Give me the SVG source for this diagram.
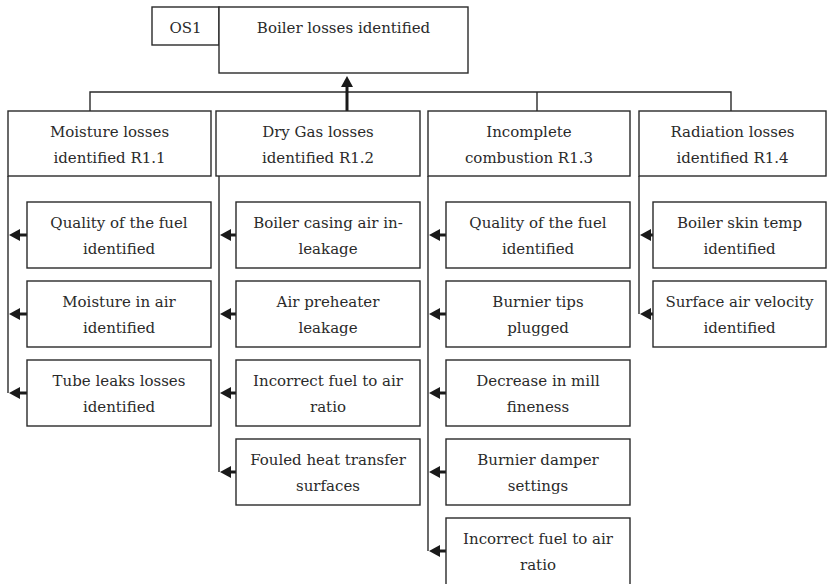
<svg xmlns="http://www.w3.org/2000/svg" width="827" height="584" viewBox="0 0 827 584">
  <style>
    .box { fill: #ffffff; stroke: #2a2a2a; stroke-width: 1.4; }
    .ln { fill: none; stroke: #2a2a2a; stroke-width: 1.4; }
    .arr { fill: none; stroke: #1a1a1a; stroke-width: 3; }
    .lbl { font-family: "DejaVu Serif", "Liberation Serif", serif; font-size: 15px; fill: #2a2a2a; text-anchor: middle; }
  </style>
  <defs>
    <marker id="ah" markerUnits="userSpaceOnUse" markerWidth="12" markerHeight="12" refX="1" refY="6" orient="auto" overflow="visible">
      <path d="M0,0 L11,6 L0,12 z" fill="#1a1a1a"/>
    </marker>
  </defs>
  <rect width="827" height="584" fill="#ffffff"/>

  <!-- connectors -->
  <g id="connectors">
    <path class="ln" d="M90,111 V92 H731 V111 M537,92 V111"/>
    <line class="arr" x1="347" y1="111" x2="347" y2="86" marker-end="url(#ah)"/>
    <!-- spines -->
    <line class="ln" x1="8" y1="176" x2="8" y2="393"/>
    <line class="ln" x1="219" y1="176" x2="219" y2="472"/>
    <line class="ln" x1="428" y1="176" x2="428" y2="551"/>
    <line class="ln" x1="639" y1="176" x2="639" y2="314"/>
    <!-- column 1 -->
    <line class="arr" x1="28" y1="235" x2="19" y2="235" marker-end="url(#ah)"/>
    <line class="arr" x1="28" y1="314" x2="19" y2="314" marker-end="url(#ah)"/>
    <line class="arr" x1="28" y1="393" x2="19" y2="393" marker-end="url(#ah)"/>
    <!-- column 2 -->
    <line class="arr" x1="237" y1="235" x2="230" y2="235" marker-end="url(#ah)"/>
    <line class="arr" x1="237" y1="314" x2="230" y2="314" marker-end="url(#ah)"/>
    <line class="arr" x1="237" y1="393" x2="230" y2="393" marker-end="url(#ah)"/>
    <line class="arr" x1="237" y1="472" x2="230" y2="472" marker-end="url(#ah)"/>
    <!-- column 3 -->
    <line class="arr" x1="447" y1="235" x2="439" y2="235" marker-end="url(#ah)"/>
    <line class="arr" x1="447" y1="314" x2="439" y2="314" marker-end="url(#ah)"/>
    <line class="arr" x1="447" y1="393" x2="439" y2="393" marker-end="url(#ah)"/>
    <line class="arr" x1="447" y1="472" x2="439" y2="472" marker-end="url(#ah)"/>
    <line class="arr" x1="447" y1="551" x2="439" y2="551" marker-end="url(#ah)"/>
    <!-- column 4 -->
    <line class="arr" x1="654" y1="235" x2="650" y2="235" marker-end="url(#ah)"/>
    <line class="arr" x1="654" y1="314" x2="650" y2="314" marker-end="url(#ah)"/>
  </g>

  <!-- top -->
  <g id="os1">
    <rect class="box" x="152" y="7" width="67" height="38"/>
    <text class="lbl" x="185.5" y="33">OS1</text>
  </g>
  <g id="boiler-losses">
    <rect class="box" x="219" y="7" width="249" height="66"/>
    <text class="lbl" x="343.5" y="33">Boiler losses identified</text>
  </g>

  <!-- level 2 -->
  <g id="r1-1">
    <rect class="box" x="8" y="111" width="203" height="65"/>
    <text class="lbl" x="109.5" y="137">Moisture losses</text>
    <text class="lbl" x="109.5" y="163">identified R1.1</text>
  </g>
  <g id="r1-2">
    <rect class="box" x="216" y="111" width="204" height="65"/>
    <text class="lbl" x="318" y="137">Dry Gas losses</text>
    <text class="lbl" x="318" y="163">identified R1.2</text>
  </g>
  <g id="r1-3">
    <rect class="box" x="428" y="111" width="202" height="65"/>
    <text class="lbl" x="529" y="137">Incomplete</text>
    <text class="lbl" x="529" y="163">combustion R1.3</text>
  </g>
  <g id="r1-4">
    <rect class="box" x="639" y="111" width="187" height="65"/>
    <text class="lbl" x="732.5" y="137">Radiation losses</text>
    <text class="lbl" x="732.5" y="163">identified R1.4</text>
  </g>

  <!-- column 1 children -->
  <g id="c1-fuel">
    <rect class="box" x="27" y="202" width="184" height="66"/>
    <text class="lbl" x="119" y="228">Quality of the fuel</text>
    <text class="lbl" x="119" y="254">identified</text>
  </g>
  <g id="c1-moisture">
    <rect class="box" x="27" y="281" width="184" height="66"/>
    <text class="lbl" x="119" y="307">Moisture in air</text>
    <text class="lbl" x="119" y="333">identified</text>
  </g>
  <g id="c1-tube">
    <rect class="box" x="27" y="360" width="184" height="66"/>
    <text class="lbl" x="119" y="386">Tube leaks losses</text>
    <text class="lbl" x="119" y="412">identified</text>
  </g>

  <!-- column 2 children -->
  <g id="c2-casing">
    <rect class="box" x="236" y="202" width="184" height="66"/>
    <text class="lbl" x="328" y="228">Boiler casing air in-</text>
    <text class="lbl" x="328" y="254">leakage</text>
  </g>
  <g id="c2-preheater">
    <rect class="box" x="236" y="281" width="184" height="66"/>
    <text class="lbl" x="328" y="307">Air preheater</text>
    <text class="lbl" x="328" y="333">leakage</text>
  </g>
  <g id="c2-ratio">
    <rect class="box" x="236" y="360" width="184" height="66"/>
    <text class="lbl" x="328" y="386">Incorrect fuel to air</text>
    <text class="lbl" x="328" y="412">ratio</text>
  </g>
  <g id="c2-fouled">
    <rect class="box" x="236" y="439" width="184" height="66"/>
    <text class="lbl" x="328" y="465">Fouled heat transfer</text>
    <text class="lbl" x="328" y="491">surfaces</text>
  </g>

  <!-- column 3 children -->
  <g id="c3-fuel">
    <rect class="box" x="446" y="202" width="184" height="66"/>
    <text class="lbl" x="538" y="228">Quality of the fuel</text>
    <text class="lbl" x="538" y="254">identified</text>
  </g>
  <g id="c3-tips">
    <rect class="box" x="446" y="281" width="184" height="66"/>
    <text class="lbl" x="538" y="307">Burnier tips</text>
    <text class="lbl" x="538" y="333">plugged</text>
  </g>
  <g id="c3-mill">
    <rect class="box" x="446" y="360" width="184" height="66"/>
    <text class="lbl" x="538" y="386">Decrease in mill</text>
    <text class="lbl" x="538" y="412">fineness</text>
  </g>
  <g id="c3-damper">
    <rect class="box" x="446" y="439" width="184" height="66"/>
    <text class="lbl" x="538" y="465">Burnier damper</text>
    <text class="lbl" x="538" y="491">settings</text>
  </g>
  <g id="c3-ratio">
    <rect class="box" x="446" y="518" width="184" height="70"/>
    <text class="lbl" x="538" y="544">Incorrect fuel to air</text>
    <text class="lbl" x="538" y="570">ratio</text>
  </g>

  <!-- column 4 children -->
  <g id="c4-skin">
    <rect class="box" x="653" y="202" width="173" height="66"/>
    <text class="lbl" x="739.5" y="228">Boiler skin temp</text>
    <text class="lbl" x="739.5" y="254">identified</text>
  </g>
  <g id="c4-velocity">
    <rect class="box" x="653" y="281" width="173" height="66"/>
    <text class="lbl" x="739.5" y="307">Surface air velocity</text>
    <text class="lbl" x="739.5" y="333">identified</text>
  </g>
</svg>
